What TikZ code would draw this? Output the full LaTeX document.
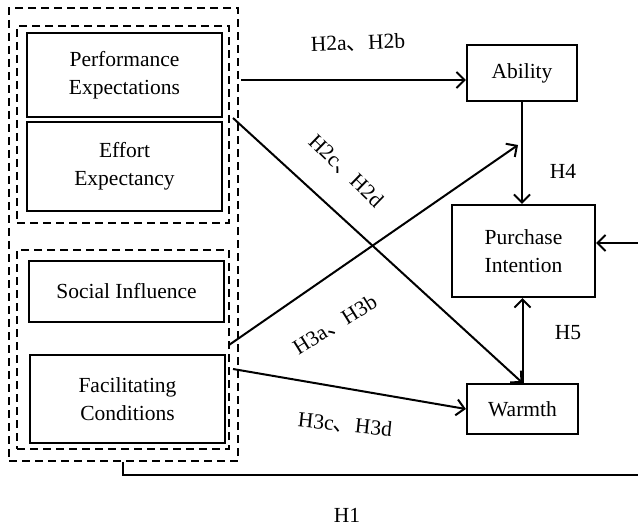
\documentclass[tikz,border=0pt]{standalone}
\usepackage{fontspec}
\setmainfont{Liberation Serif}
\newfontfamily\cjk{Noto Sans CJK SC}
\usetikzlibrary{arrows.meta,calc}
\newcommand{\dn}{{\cjk 、}}
\begin{document}
\begin{tikzpicture}[x=1pt,y=-1pt,
  box/.style={draw,line width=2.2pt,align=center,inner sep=0pt,font=\fontsize{21.5}{28}\selectfont},
  dbox/.style={draw,line width=2.2pt,dash pattern=on 8pt off 5pt,inner sep=0pt},
  conn/.style={line width=2pt,-{Straight Barb[length=8pt,width=16pt,line width=2pt]}},
  plain/.style={line width=2pt},
  lab/.style={font=\fontsize{21.5}{25}\selectfont,inner sep=0pt}]
\useasboundingbox (0,0) rectangle (638,527);
% dashed groups
\node[dbox,minimum width=229pt,minimum height=453pt] (outer) at (123.5,234.5) {};
\node[dbox,minimum width=212pt,minimum height=197pt] (upper) at (123,124.5) {};
\node[dbox,minimum width=212pt,minimum height=199pt] (lower) at (123,349.5) {};
% left boxes
\node[box,minimum width=195pt,minimum height=84pt] (pe) at (124.5,75) {Performance\\Expectations};
\node[box,minimum width=195pt,minimum height=89pt] (ee) at (124.5,166.5) {Effort\\Expectancy};
\node[box,minimum width=195pt,minimum height=61pt] (si) at (126.5,291.5) {Social Influence};
\node[box,minimum width=195pt,minimum height=88pt] (fc) at (127.5,399) {Facilitating\\Conditions};
% right boxes
\node[box,minimum width=110pt,minimum height=56pt] (ab) at (522,73) {Ability};
\node[box,minimum width=143pt,minimum height=92pt] (pi) at (523.5,251) {Purchase\\Intention};
\node[box,minimum width=111pt,minimum height=50pt] (wa) at (522.5,409) {Warmth};
% connector coordinates
\coordinate (s1) at (241,80);
\coordinate (s2) at (233,118);
\coordinate (s3) at (229,345);
\coordinate (s4) at (233,369);
\coordinate (e3) at (518,145);
\coordinate (h1a) at (123,475);
\coordinate (h1b) at (642,475);
\coordinate (h1c) at (642,243);
% connectors
\draw[conn] (s1) -- (s1 -| ab.west);
\draw[conn] (s2) -- (wa.north);
\draw[conn] (s3) -- (e3);
\draw[conn] (s4) -- (wa.west);
\draw[conn] (ab.south) -- (ab.south |- pi.north);
\draw[conn] (wa.north) -- (wa.north |- pi.south);
\draw[plain] (outer.south -| h1a) -- (h1a) -- (h1b) -- (h1c);
\draw[conn] (h1c) -- (h1c -| pi.east);
% labels
\node[lab,rotate=2] (l2a) at (358,43) {H2a\dn H2b};
\node[lab,rotate=-44] (l2c) at (346,171) {H2c\dn H2d};
\node[lab,rotate=32] (l3a) at (335,325) {H3a\dn H3b};
\node[lab,rotate=-6] (l3c) at (345,425) {H3c\dn H3d};
\node[lab] (l4) at (563,171) {H4};
\node[lab] (l5) at (568,333) {H5};
\node[lab] (l1) at (347,515) {H1};
\end{tikzpicture}
\end{document}
